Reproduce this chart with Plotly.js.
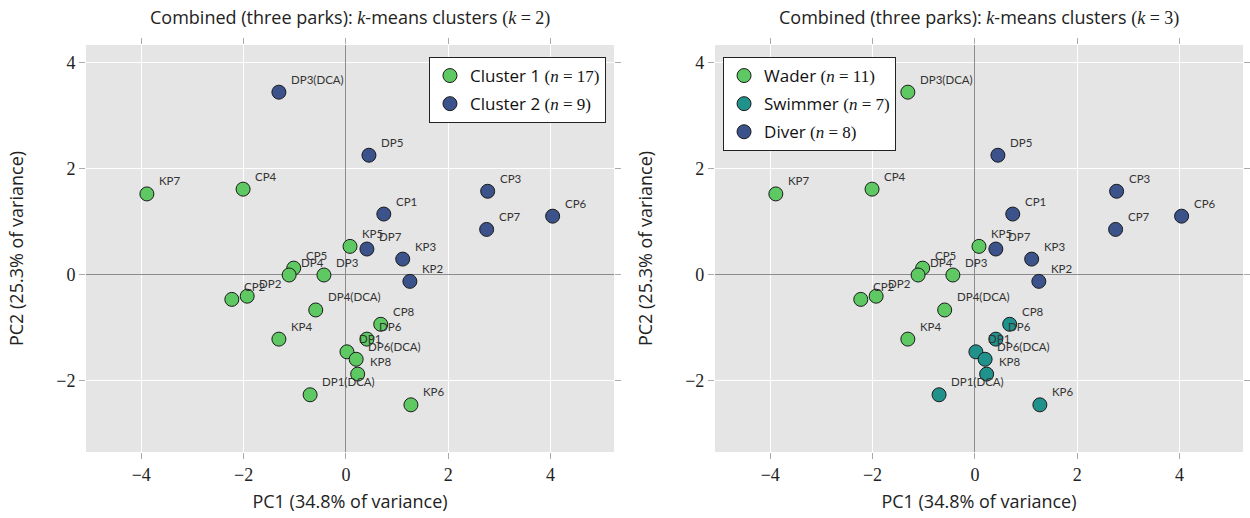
<!DOCTYPE html>
<html>
<head>
<meta charset="utf-8">
<script src="https://cdn.plot.ly/plotly-3.0.1.min.js"></script>
<style>html,body{margin:0;padding:0;background:#fff;}#chart{width:1250px;height:518px;}</style>
</head>
<body>
<div id="chart"></div>
<script>
// ---- data ----
const sites = ['DP3(DCA)','DP5','KP7','CP4','CP3','CP1','CP6','CP7','KP5','DP7','KP3','KP2','CP5','DP4','DP3','CP2','DP2','DP4(DCA)','KP4','CP8','DP6','DP1','DP6(DCA)','KP8','DP1(DCA)','KP6'];
const pc1 = [-1.31,0.45,-3.89,-2.01,2.77,0.74,4.04,2.75,0.08,0.41,1.11,1.25,-1.02,-1.11,-0.43,-2.23,-1.93,-0.59,-1.31,0.68,0.41,0.02,0.20,0.23,-0.70,1.27];
const pc2 = [3.44,2.25,1.52,1.61,1.57,1.14,1.10,0.85,0.53,0.48,0.29,-0.13,0.12,-0.01,-0.01,-0.47,-0.41,-0.67,-1.22,-0.94,-1.22,-1.46,-1.60,-1.88,-2.27,-2.46];
const clusterK2 = [2,2,1,1,2,2,2,2,1,2,2,2,1,1,1,1,1,1,1,1,1,1,1,1,1,1];
const clusterK3 = ['Wader','Diver','Wader','Wader','Diver','Diver','Diver','Diver','Wader','Diver','Diver','Diver','Wader','Wader','Wader','Wader','Wader','Wader','Wader','Swimmer','Swimmer','Swimmer','Swimmer','Swimmer','Swimmer','Swimmer'];
const k2Groups = [1,2];
const k2Names = ['Cluster 1','Cluster 2'];
const k3Groups = ['Wader','Swimmer','Diver'];
const tickValues = [-4,-2,0,2,4];
const titleLeft = 'Combined (three parks): ';
const xTitle = 'PC1 (34.8% of variance)';
const yTitle = 'PC2 (25.3% of variance)';

// ---- style ----
const SANS = 'Open Sans';
const LABEL = 'Lato';
const SERIF = 'Liberation Serif';
const colK2 = {1:'#5ec962', 2:'#3b528b'};
const colK3 = {'Wader':'#5ec962','Swimmer':'#21918c','Diver':'#3b528b'};
const math = s => '<span style="font-family:' + SERIF + '">' + s + '</span>';
const EQ = '&nbsp;=&nbsp;';

const traces = [];
k2Groups.forEach((g,gi) => {
  const idx = sites.map((_,i)=>i).filter(i => clusterK2[i] === g);
  traces.push({
    type:'scatter', mode:'markers', xaxis:'x', yaxis:'y', legend:'legend', legendgroup:'a'+g,
    name: k2Names[gi] + ' ' + math('(<i>n</i>' + EQ + idx.length + ')'),
    x: idx.map(i=>pc1[i]), y: idx.map(i=>pc2[i]),
    marker:{size:14, color:colK2[g], line:{width:1, color:'#1a1a1a'}},
    hoverinfo:'skip'
  });
});
k3Groups.forEach(g => {
  const idx = sites.map((_,i)=>i).filter(i => clusterK3[i] === g);
  traces.push({
    type:'scatter', mode:'markers', xaxis:'x2', yaxis:'y2', legend:'legend2', legendgroup:'b'+g,
    name: g + ' ' + math('(<i>n</i>' + EQ + idx.length + ')'),
    x: idx.map(i=>pc1[i]), y: idx.map(i=>pc2[i]),
    marker:{size:14, color:colK3[g], line:{width:1, color:'#1a1a1a'}},
    hoverinfo:'skip'
  });
});

const annotations = [];
['x','x2'].forEach((xa,pi) => {
  const ya = pi === 0 ? 'y' : 'y2';
  sites.forEach((s,i) => annotations.push({
    x: pc1[i], y: pc2[i], xref: xa, yref: ya, text: s, showarrow:false,
    xanchor:'left', yanchor:'middle', xshift:10, yshift:13,
    font:{family:LABEL, size:11.5, color:'#333'}
  }));
});
const dom1 = [0, 0.4564], dom2 = [0.5436, 1];
annotations.push({xref:'paper', yref:'paper', x:(dom1[0]+dom1[1])/2, y:1.0688, yanchor:'middle', xanchor:'center', showarrow:false,
  text: titleLeft + math('<i>k</i>') + '-means clusters ' + math('(<i>k</i>' + EQ + '2)'), font:{family:SANS, size:18, color:'#222'}});
annotations.push({xref:'paper', yref:'paper', x:(dom2[0]+dom2[1])/2, y:1.0688, yanchor:'middle', xanchor:'center', showarrow:false,
  text: titleLeft + math('<i>k</i>') + '-means clusters ' + math('(<i>k</i>' + EQ + '3)'), font:{family:SANS, size:18, color:'#222'}});

function xax(dom){
  return {domain:dom, range:[-5.08,5.24], tickvals:tickValues, ticks:'outside', ticklen:6, tickcolor:'#aaa',
    mirror:'ticks', showline:false, showgrid:true, gridcolor:'#ffffff', gridwidth:1,
    zeroline:true, zerolinecolor:'#8c8c8c', zerolinewidth:1,
    tickfont:{family:SERIF, size:18, color:'#222'},
    title:{text:xTitle, font:{family:SANS, size:18, color:'#222'}, standoff:11}, fixedrange:true};
}
function yax(anchor){
  return {anchor:anchor, domain:[0,1], range:[-3.35,4.33], tickvals:tickValues, ticks:'outside', ticklen:6, tickcolor:'#aaa',
    mirror:'ticks', showline:false, showgrid:true, gridcolor:'#ffffff', gridwidth:1,
    zeroline:true, zerolinecolor:'#8c8c8c', zerolinewidth:1,
    tickfont:{family:SERIF, size:18, color:'#222'},
    title:{text:yTitle, font:{family:SANS, size:18, color:'#222'}, standoff:27}, fixedrange:true};
}
const legendBase = {bgcolor:'#ffffff', bordercolor:'#222', borderwidth:1, font:{family:SANS, size:17, color:'#111'},
  itemwidth:30, tracegroupgap:3, yanchor:'top', y:0.9705};

const layout = {
  width:1250, height:518, margin:{l:86, r:7, t:45, b:66},
  paper_bgcolor:'#ffffff', plot_bgcolor:'#e5e5e5',
  xaxis: Object.assign(xax(dom1), {anchor:'y'}),
  yaxis: yax('x'),
  xaxis2: Object.assign(xax(dom2), {anchor:'y2'}),
  yaxis2: yax('x2'),
  legend: Object.assign({}, legendBase, {x:0.4494, xanchor:'right'}),
  legend2: Object.assign({}, legendBase, {x:0.5506, xanchor:'left'}),
  annotations: annotations,
  showlegend:true
};
Plotly.newPlot('chart', traces, layout, {displayModeBar:false, staticPlot:true});
</script>
</body>
</html>
